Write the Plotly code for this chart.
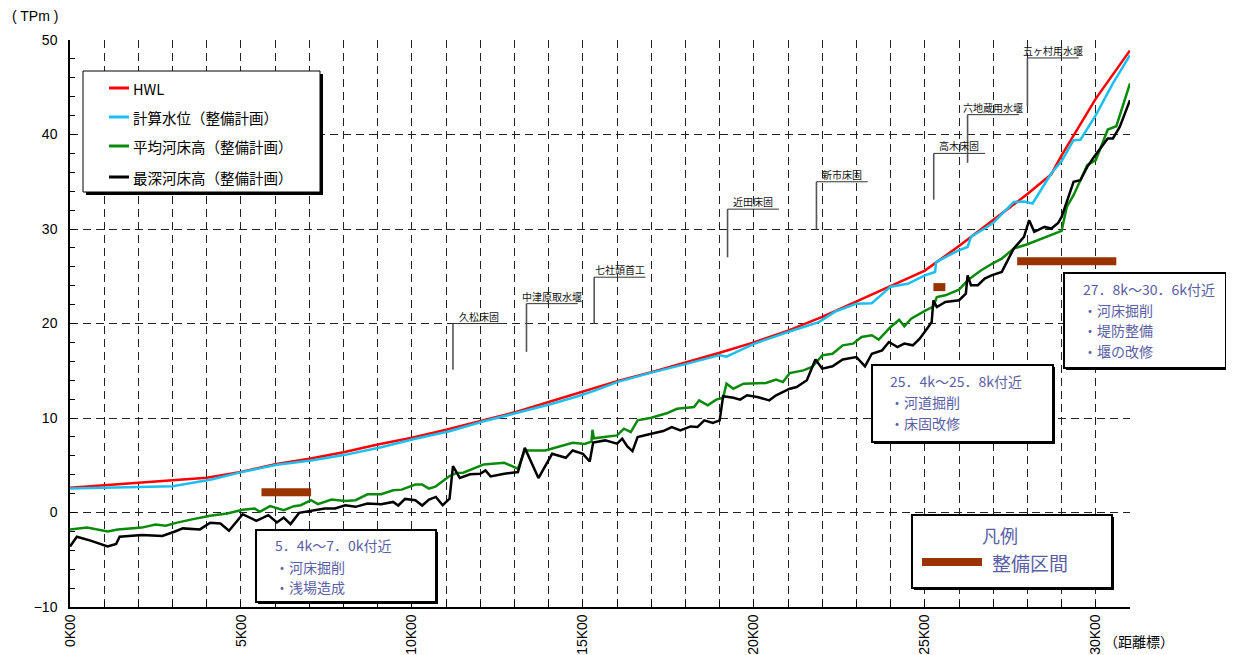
import plotly.graph_objects as go

# ---- longitudinal profile data (km, TPm) ----
hwl_km = [0, 1, 2, 3, 4, 5, 6, 7, 8, 9, 10, 11, 12, 13, 14, 15, 16, 17, 18, 19, 20,
          21, 22, 23, 24, 25, 26, 27, 28, 28.7, 29, 30, 31]
hwl_tp = [2.63, 2.88, 3.1, 3.38, 3.68, 4.3, 5.1, 5.68, 6.38, 7.2, 7.9, 8.75, 9.7, 10.6,
          11.7, 12.8, 13.9, 14.85, 15.85, 16.9, 18.0, 19.25, 20.7, 22.35, 24.0, 25.6,
          28.2, 31.0, 33.7, 35.8, 37.8, 43.8, 48.9]

calc_km = [0, 1.1, 2.1, 3.0, 4.1, 5.05, 6.05, 7.05, 8.05, 9.1, 10.1, 11.1, 12.1, 13.1,
           14.1, 14.85, 15.35, 16.0, 17.0, 18.0, 19.0, 19.2, 20.0, 21.0, 21.9, 22.4,
           23.0, 23.45, 24.0, 24.5, 25.0, 25.3, 25.33, 25.7, 26.0, 26.25, 26.35, 26.75,
           27.0, 27.6, 27.9, 28.15, 28.7, 29.0, 29.35, 29.55, 30.0, 30.5, 31.0]
calc_tp = [2.53, 2.6, 2.67, 2.77, 3.47, 4.3, 5.05, 5.5, 6.1, 6.9, 7.8, 8.6, 9.65, 10.6,
           11.5, 12.3, 12.9, 13.8, 14.8, 15.7, 16.65, 16.5, 17.85, 19.1, 20.15, 21.3,
           22.1, 22.15, 23.9, 24.2, 25.1, 25.45, 26.5, 27.2, 27.75, 28.1, 29.2, 30.05,
           30.65, 32.85, 32.9, 32.7, 35.9, 37.2, 39.4, 39.45, 42.05, 45.4, 48.4]

avg_km = [0, 0.5, 1.1, 1.4, 2.1, 2.5, 2.8, 3.1, 3.6, 4.1, 4.6, 5.05, 5.4, 5.55, 5.85,
          6.25, 6.55, 6.75, 7.05, 7.25, 7.65, 8.05, 8.35, 8.7, 9.1, 9.45, 9.7, 10.1,
          10.3, 10.5, 10.7, 11.1, 11.3, 11.5, 12.1, 12.7, 13.1, 13.3, 13.9, 14.7, 15.05,
          15.25, 15.28, 15.32, 16.0, 16.2, 16.4, 16.6, 17.0, 17.45, 17.75, 18.25, 18.4,
          18.65, 18.9, 19.1, 19.2, 19.4, 19.7, 20.35, 20.65, 20.85, 21.05, 21.45, 21.7,
          22.0, 22.3, 22.6, 22.9, 23.15, 23.45, 23.65, 24.0, 24.25, 24.4, 24.6, 25.0,
          25.25, 25.35, 25.6, 26.0, 26.25, 26.45, 26.65, 27.0, 27.25, 27.6, 28.0, 29.0,
          29.15, 29.35, 29.75, 30.0, 30.35, 30.6, 31.0]
avg_tp = [-1.79, -1.6, -2.0, -1.79, -1.6, -1.26, -1.4, -1.1, -0.7, -0.35, -0.1, 0.3,
          0.42, 0.07, 0.67, 0.25, 0.67, 0.77, 1.3, 0.88, 1.37, 1.23, 1.3, 1.93, 1.93,
          2.35, 2.42, 2.95, 2.95, 2.53, 2.77, 3.86, 4.18, 4.21, 5.09, 5.26, 4.63, 6.56,
          6.56, 7.37, 7.26, 7.5, 8.75, 7.85, 8.16, 8.87, 8.51, 9.75, 10.03, 10.5, 10.98,
          11.16, 11.87, 11.34, 11.94, 12.15, 13.63, 13.1, 13.63, 13.7, 14.06, 13.8, 14.76,
          15.04, 15.4, 16.63, 16.8, 17.69, 17.87, 18.57, 18.75, 18.3, 19.63, 20.4, 19.7,
          20.5, 21.33, 21.8, 22.8, 22.98, 23.58, 24.57, 25.1, 25.63, 26.4, 26.87, 27.93,
          28.39, 29.8, 32.34, 33.58, 36.75, 37.28, 40.53, 40.88, 45.4]

deep_km = [0, 0.2, 0.6, 1.1, 1.35, 1.45, 2.1, 2.7, 3.05, 3.3, 3.8, 4.1, 4.4, 4.65, 5.05,
           5.45, 5.8, 6.05, 6.25, 6.45, 6.7, 7.05, 7.45, 7.75, 8.05, 8.35, 8.7, 9.1, 9.45,
           9.6, 9.8, 10.1, 10.3, 10.5, 10.7, 10.9, 11.1, 11.2, 11.4, 11.7, 12.0, 12.15,
           12.3, 12.7, 13.1, 13.3, 13.7, 14.1, 14.5, 14.7, 15.0, 15.2, 15.3, 15.65, 16.0,
           16.15, 16.3, 16.45, 16.6, 17.0, 17.35, 17.6, 17.85, 18.15, 18.35, 18.55, 18.8,
           19.0, 19.1, 19.4, 19.6, 19.8, 20.1, 20.45, 20.65, 21.05, 21.25, 21.55, 21.8,
           22.0, 22.3, 22.6, 23.0, 23.25, 23.45, 23.75, 23.95, 24.2, 24.4, 24.65, 24.85,
           25.1, 25.2, 25.25, 25.35, 25.6, 26.0, 26.2, 26.25, 26.35, 26.55, 26.75, 26.95,
           27.25, 27.6, 27.9, 28.05, 28.2, 28.5, 28.7, 28.9, 29.0, 29.35, 29.55, 29.75,
           29.95, 30.35, 30.5, 30.7, 31.0]
deep_tp = [-3.6, -2.56, -2.98, -3.6, -3.33, -2.56, -2.39, -2.49, -2.04, -1.68, -1.79,
           -1.09, -1.16, -1.93, -0.18, -0.88, -0.28, -1.05, -0.53, -1.23, -0.04, 0.14,
           0.42, 0.42, 0.77, 0.6, 0.95, 0.88, 1.12, 0.74, 1.44, 1.3, 0.74, 1.37, 1.65,
           0.77, 1.47, 4.91, 3.65, 4.04, 4.1, 4.46, 3.82, 4.1, 4.28, 6.84, 3.65, 6.21,
           5.79, 6.56, 6.21, 5.4, 7.4, 7.63, 7.28, 7.81, 7.0, 6.5, 7.98, 8.34, 8.62, 9.04,
           8.69, 9.11, 9.04, 9.75, 9.47, 9.75, 12.3, 12.15, 11.94, 12.4, 12.22, 11.87,
           12.4, 13.1, 13.28, 13.99, 16.2, 15.22, 15.47, 16.2, 16.45, 15.47, 16.8, 17.16,
           18.04, 17.51, 17.87, 17.69, 18.4, 19.63, 20.16, 22.46, 21.75, 22.28, 22.46,
           23.16, 25.1, 24.05, 24.05, 24.75, 25.1, 25.46, 27.93, 29.16, 30.93, 29.7, 30.22,
           30.05, 30.65, 31.28, 34.99, 35.16, 36.58, 37.64, 39.58, 39.58, 40.81, 43.64]

# improvement sections (整備区間) as drawn
works_from = [5.6, 25.25, 27.7]
works_to = [7.05, 25.6, 30.6]
works_tp = [2.15, 23.85, 26.6]

# weirs / bed girdles
weir_names = ["久松床固", "中津原取水堰", "七社頭首工", "近田床固",
              "新市床固", "高木床固", "六地蔵用水堰", "五ヶ村用水堰"]
weir_km = [11.2, 13.35, 15.33, 19.23, 21.83, 25.26, 26.25, 28.0]
# leader line extent (layout only)
leader_top = [20.0, 22.1, 24.9, 32.1, 35.0, 38.0, 42.1, 48.1]
leader_bottom = [15.1, 17.0, 20.0, 27.0, 30.0, 33.1, 37.0, 43.0]
LEADER_LEN = 1.5

tick_km = list(range(0, 32))
tick_text = [f"{k}K00" if k % 5 == 0 and k <= 30 else "" for k in tick_km]

series_names = ["HWL", "計算水位（整備計画）", "平均河床高（整備計画）", "最深河床高（整備計画）"]
series_colors = ["#FF0000", "#1CBFF2", "#0A8A0A", "#000000"]

# ---- figure ----
# plot area in page pixels; the page body adds an 8px margin
PL, PR, PT, PB = 70, 1130, 40, 607
PAGE_W, PAGE_H, OFF = 1234, 655, 8
W, H = PAGE_W - OFF, PAGE_H - OFF


def px(x):
    return (x - PL) / (PR - PL)


def py(y):
    return (PB - y) / (PB - PT)


JP = "Noto Sans CJK JP"
BLUE = "#5A5EA6"
BROWN = "#993300"

fig = go.Figure()
for xs, ys, name, color in zip([hwl_km, calc_km, avg_km, deep_km],
                               [hwl_tp, calc_tp, avg_tp, deep_tp],
                               series_names, series_colors):
    fig.add_trace(go.Scatter(x=xs, y=ys, mode="lines", name=name,
                             line=dict(color=color, width=2.5),
                             showlegend=False, hoverinfo="skip"))

for a, b, lv in zip(works_from, works_to, works_tp):
    fig.add_trace(go.Scatter(x=[a, b], y=[lv, lv], mode="lines",
                             line=dict(color=BROWN, width=8),
                             showlegend=False, hoverinfo="skip"))

shapes = []
annotations = []

# weir leader lines + labels
for name, k, top, bot in zip(weir_names, weir_km, leader_top, leader_bottom):
    shapes.append(dict(type="line", xref="x", yref="y", x0=k, x1=k, y0=bot, y1=top,
                       line=dict(color="#555555", width=1.6), layer="above"))
    shapes.append(dict(type="line", xref="x", yref="y", x0=k, x1=k + LEADER_LEN,
                       y0=top, y1=top, line=dict(color="#333333", width=1), layer="above"))
    annotations.append(dict(x=k + LEADER_LEN / 2, y=top, xref="x", yref="y",
                            text=name, showarrow=False, xanchor="center", yanchor="bottom",
                            yshift=-2, font=dict(family=JP, size=10, color="#111111")))


def box(x0, y0, x1, y1, lw=2, shadow=2):
    if shadow:
        shapes.append(dict(type="rect", xref="paper", yref="paper",
                           x0=px(x0 + shadow), x1=px(x1 + shadow),
                           y0=py(y1 + shadow), y1=py(y0 + shadow),
                           fillcolor="black", line=dict(width=0), layer="above"))
    shapes.append(dict(type="rect", xref="paper", yref="paper",
                       x0=px(x0), x1=px(x1), y0=py(y1), y1=py(y0),
                       fillcolor="white", line=dict(color="black", width=lw), layer="above"))


def text(t, x, y, size=14, color=BLUE, anchor="left", family=JP):
    annotations.append(dict(x=px(x), y=py(y), xref="paper", yref="paper", text=t,
                            showarrow=False, xanchor=anchor, yanchor="middle",
                            font=dict(family=family, size=size, color=color)))


# series legend
box(83, 71, 320, 192, lw=1, shadow=3)
for i, (name, color) in enumerate(zip(series_names, series_colors)):
    yy = [88, 117, 146, 177][i]
    shapes.append(dict(type="line", xref="paper", yref="paper", x0=px(109), x1=px(129),
                       y0=py(yy), y1=py(yy), line=dict(color=color, width=3), layer="above"))
    text(name, 131, yy, size=14.5, color="black")

# work boxes
box(256, 530, 436, 602)
for t, yy in zip(["5．4k～7．0k付近", "・河床掘削", "・浅場造成"], [545, 567, 587]):
    text(t, 273, yy)

box(872, 365, 1053, 442)
for t, yy in zip(["25．4k～25．8k付近", "・河道掘削", "・床固改修"], [381, 402, 423]):
    text(t, 888, yy)

box(1064, 273, 1226, 368)
for t, yy in zip(["27．8k～30．6k付近", "・河床掘削", "・堤防整備", "・堰の改修"],
                 [289, 310, 330, 351]):
    text(t, 1081, yy)

# 凡例 box
box(912, 515, 1112, 588)
text("凡例", 1000, 535, size=18, anchor="center")
shapes.append(dict(type="rect", xref="paper", yref="paper", x0=px(922), x1=px(982),
                   y0=py(566), y1=py(558), fillcolor=BROWN, line=dict(width=0), layer="above"))
text("整備区間", 990, 562, size=19)

# axis captions
text("( TPm )", 10, 16, size=14, color="black", family="Liberation Sans")
text("（距離標）", 1102, 641, size=14, color="black")

fig.update_layout(
    width=W, height=H,
    margin=dict(l=PL - OFF, r=PAGE_W - PR, t=PT - OFF, b=PAGE_H - PB),
    paper_bgcolor="white", plot_bgcolor="white",
    showlegend=False,
    shapes=shapes, annotations=annotations,
    font=dict(family="Liberation Sans", size=14, color="black"),
)
fig.update_xaxes(
    range=[0, 31], tickmode="array", tickvals=tick_km, ticktext=tick_text,
    tickangle=-90, ticks="inside", ticklen=6, tickcolor="black", automargin=False,
    showline=True, linecolor="black", linewidth=1.5,
    showgrid=True, gridcolor="#222222", gridwidth=1, griddash="8px,5px",
    zeroline=False, tickfont=dict(family="Liberation Sans", size=14),
)
fig.update_yaxes(
    range=[-10, 50], dtick=10, ticks="inside", ticklen=6, tickcolor="black",
    minor=dict(dtick=2, ticks="inside", ticklen=5, tickcolor="black", showgrid=False),
    showline=True, linecolor="black", linewidth=1.5, automargin=False,
    showgrid=True, gridcolor="#222222", gridwidth=1, griddash="8px,5px",
    zeroline=False, ticklabelstandoff=8, tickfont=dict(family="Liberation Sans", size=14),
)

fig.write_html("out.html")
